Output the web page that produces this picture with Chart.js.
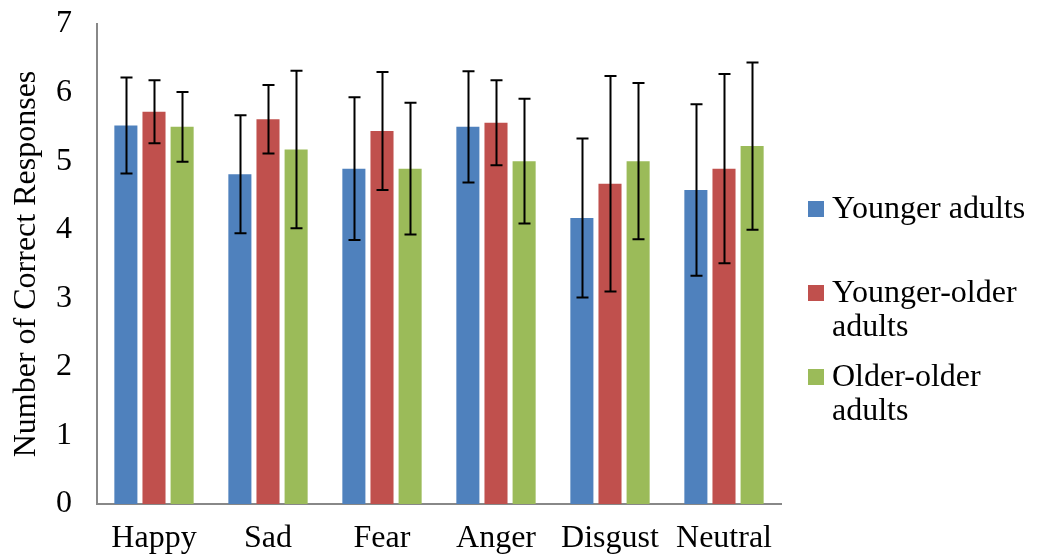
<!DOCTYPE html>
<html>
<head>
<meta charset="utf-8">
<script src="https://cdn.jsdelivr.net/npm/chart.js@4"></script>
<style>
  html, body { margin: 0; padding: 0; background: #fff; }
</style>
</head>
<body>
<canvas id="emotionChart" width="1038" height="560"></canvas>
<script>
const emotions = ["Happy", "Sad", "Fear", "Anger", "Disgust", "Neutral"];
const seriesNames = ["Younger adults", "Younger-older adults", "Older-older adults"];
// how the legend wraps each name
const legendLines = [["Younger adults"], ["Younger-older", "adults"], ["Older-older", "adults"]];
const colors = ["#4F81BD", "#C0504D", "#9BBB59"];

const youngerAdults = [5.52, 4.81, 4.89, 5.50, 4.17, 4.58];
const youngerOlder = [5.72, 5.61, 5.44, 5.56, 4.67, 4.89];
const olderOlder = [5.50, 5.17, 4.89, 5.00, 5.00, 5.22];

// error bar half-lengths (+/-)
const youngerAdultsErr = [0.70, 0.86, 1.04, 0.81, 1.16, 1.25];
const youngerOlderErr = [0.46, 0.50, 0.86, 0.62, 1.57, 1.38];
const olderOlderErr = [0.51, 1.15, 0.96, 0.91, 1.14, 1.22];

const yTicks = [0, 1, 2, 3, 4, 5, 6, 7];

const serif = "'Liberation Serif', 'Times New Roman', serif";

const errorBars = {
  id: "errorBars",
  afterDatasetsDraw(chart) {
    const c = chart.ctx;
    const yScale = chart.scales.y;
    c.save();
    c.strokeStyle = "#000";
    c.lineWidth = 2;
    chart.data.datasets.forEach((ds, i) => {
      const meta = chart.getDatasetMeta(i);
      meta.data.forEach((bar, j) => {
        const v = ds.data[j];
        const e = ds.errors[j];
        const top = yScale.getPixelForValue(v + e);
        const bot = yScale.getPixelForValue(v - e);
        const x = Math.round(bar.x) + 0.5;
        c.beginPath();
        c.moveTo(x, top);
        c.lineTo(x, bot);
        c.moveTo(x - 6, top);
        c.lineTo(x + 6, top);
        c.moveTo(x - 6, bot);
        c.lineTo(x + 6, bot);
        c.stroke();
      });
    });
    c.restore();
  },
};

// legend on the right, with wrapped labels
const sideLegend = {
  id: "sideLegend",
  afterDraw(chart) {
    const c = chart.ctx;
    const x0 = chart.chartArea.right + 27;
    const rowTops = [209, 293, 377];
    c.save();
    c.font = "32px " + serif;
    c.textBaseline = "middle";
    legendLines.forEach((lines, i) => {
      c.fillStyle = colors[i];
      c.fillRect(x0, rowTops[i] - 8, 16, 16);
      c.fillStyle = "#000";
      lines.forEach((t, k) => c.fillText(t, x0 + 24, rowTops[i] + 1 + k * 34));
    });
    c.restore();
  },
};

new Chart(document.getElementById("emotionChart"), {
  type: "bar",
  data: {
    labels: emotions,
    datasets: [
      { label: seriesNames[0], data: youngerAdults, errors: youngerAdultsErr, backgroundColor: colors[0] },
      { label: seriesNames[1], data: youngerOlder, errors: youngerOlderErr, backgroundColor: colors[1] },
      { label: seriesNames[2], data: olderOlder, errors: olderOlderErr, backgroundColor: colors[2] },
    ],
  },
  options: {
    responsive: false,
    animation: false,
    categoryPercentage: 0.74,
    barPercentage: 0.82,
    layout: { padding: { top: 24, right: 257, left: 0, bottom: 0 } },
    plugins: {
      legend: { display: false },
      tooltip: { enabled: false },
    },
    scales: {
      x: {
        grid: { display: false, drawTicks: false },
        border: { display: true, color: "#888", width: 2 },
        ticks: { color: "#000", padding: 15, maxRotation: 0, font: { family: serif, size: 32 } },
        afterFit: (s) => { s.height = 56; s.paddingLeft = 0; s.paddingRight = 0; },
      },
      y: {
        min: 0,
        max: 7,
        afterBuildTicks: (s) => { s.ticks = yTicks.map((v) => ({ value: v })); },
        grid: { display: false, drawTicks: false },
        border: { display: true, color: "#888", width: 2 },
        ticks: { color: "#000", padding: 25, font: { family: serif, size: 32 } },
        title: {
          display: true,
          text: "Number of Correct Responses",
          color: "#000",
          padding: { top: 7, bottom: 0 },
          font: { family: serif, size: 32 },
        },
        afterFit: (s) => { s.width = 97; s.paddingTop = 0; s.paddingBottom = 0; },
      },
    },
  },
  plugins: [errorBars, sideLegend],
});
</script>
</body>
</html>
